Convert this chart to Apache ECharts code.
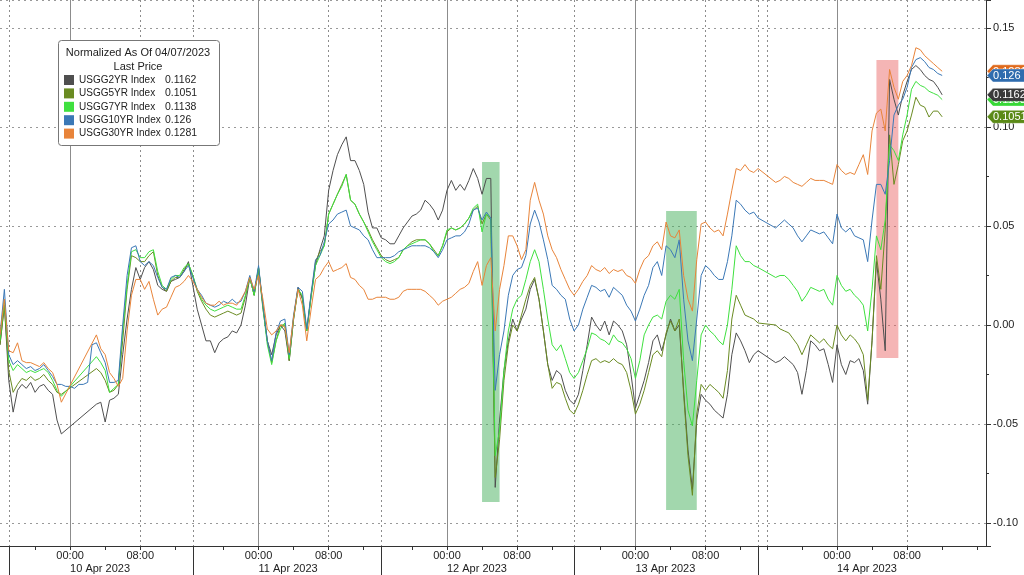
<!DOCTYPE html>
<html>
<head>
<meta charset="utf-8">
<script src="https://cdn.jsdelivr.net/npm/echarts@6/dist/echarts.min.js"></script>
<style>
html,body{margin:0;padding:0;background:#fff;}
#chart{width:1024px;height:575px;}
</style>
</head>
<body>
<div id="chart"></div>
<script>
// ---- trading-time axis: sessions in 30-minute steps ----
const sessionDates     = ['2023-04-07','2023-04-10','2023-04-11','2023-04-12','2023-04-13','2023-04-14'];
const sessionLabels    = ['07 Apr 2023','10 Apr 2023','11 Apr 2023','12 Apr 2023','13 Apr 2023','14 Apr 2023'];
const sessionFirstHour = [13, -7, -7.5, -7.5, -7, -9];
const sessionCount     = [2, 42, 43, 44, 42, 53];
const extraDottedAt    = ['13 Apr 16:00'];

const seriesNames  = ['USGG2YR Index','USGG5YR Index','USGG7YR Index','USGG10YR Index','USGG30YR Index'];
const seriesColors = ['#4f4f4f','#6a8b22','#3fe03f','#3b78b6','#e8843a'];
const tagColors    = ['#3a3a3a','#5b8a18','#36d836','#2f6cae','#e06a1c'];
const legendTitle  = 'Normalized As Of 04/07/2023';
const legendSub    = 'Last Price';

// ---- normalized yield changes (percentage points) ----
const usgg2yr = [
 -0.010, 0.010,-0.028,-0.044,-0.033,-0.030,-0.032,-0.029,-0.034,-0.031,
 -0.030,-0.033,-0.035,-0.048,-0.055, null, null, null, null, null,
  null, null,-0.040,-0.039,-0.049,-0.038,-0.037,-0.035,-0.015, 0.003,
  0.018, 0.029, 0.023, 0.029, 0.032, 0.028, 0.020, 0.018, 0.017, 0.022,
  0.023, 0.024, 0.027, 0.032, 0.020, 0.008, 0.000,-0.008,-0.008,-0.014,
 -0.009,-0.007,-0.006,-0.003,-0.004, 0.000, 0.010, 0.024, 0.015, 0.029,
  0.010,-0.008,-0.015,-0.005, 0.000,-0.003,-0.018, 0.003, 0.019, 0.013,
 -0.003, 0.015, 0.030, 0.038, 0.045, 0.068, 0.078, 0.086, 0.091, 0.095,
  0.083, 0.083, 0.078, 0.071, 0.057, 0.049, 0.049, 0.044, 0.043, 0.041,
  0.041, 0.045, 0.049, 0.052, 0.055, 0.056, 0.058, 0.063, 0.061, 0.058,
  0.053, 0.058, 0.068, 0.073, 0.068, 0.071, 0.068, 0.073, 0.079, 0.074,
  0.066, 0.074, 0.074,-0.082,-0.048,-0.023,-0.008, 0.003,-0.003, 0.003,
  0.008, 0.018, 0.023, 0.013,-0.003,-0.020,-0.028,-0.023,-0.025,-0.033,
 -0.038,-0.040,-0.035,-0.023,-0.010, 0.004, 0.000,-0.003, 0.002,-0.005,
  0.002, 0.000,-0.003,-0.010,-0.025,-0.042,-0.035,-0.028,-0.019,-0.008,
 -0.005,-0.013,-0.005, 0.003,-0.003, 0.000,-0.033,-0.063,-0.083,-0.048,
 -0.035,-0.038,-0.040,-0.043,-0.045,-0.047,-0.035,-0.015,-0.004,-0.008,
 -0.013,-0.019,-0.015,-0.013, null, null, null,-0.019,-0.018,-0.016,
 -0.018,-0.020,-0.024,-0.035,-0.023,-0.008,-0.010,-0.013,-0.012,-0.020,
 -0.029,-0.010,-0.020,-0.025,-0.018,-0.019,-0.017,-0.023,-0.040,-0.008,
  0.032, 0.013,-0.013, 0.124, 0.114, 0.106, 0.116, 0.123, 0.129, 0.131,
  0.129, 0.126, 0.124, 0.123, 0.120, 0.1162
];
const usgg5yr = [
 -0.010, 0.010,-0.023,-0.034,-0.030,-0.027,-0.028,-0.026,-0.028,-0.027,
 -0.025,-0.028,-0.030,-0.034,-0.035, null, null, null, null, null,
  null, null,-0.022,-0.024,-0.028,-0.034,-0.033,-0.030,-0.008, 0.018,
  0.035, 0.034, 0.032, 0.032, 0.035, 0.037, 0.025, 0.019, 0.017, 0.022,
  0.024, 0.024, 0.028, 0.031, 0.025, 0.017, 0.012, 0.008, 0.005, 0.004,
  0.005, 0.006, 0.007, 0.006, 0.005, 0.006, 0.014, 0.024, 0.015, 0.029,
  0.008,-0.008,-0.019,-0.008, 0.000, 0.000,-0.018, 0.003, 0.018, 0.014,
 -0.003, 0.015, 0.032, 0.037, 0.040, 0.056, 0.061, 0.066, 0.071, 0.076,
  0.063, 0.061, 0.056, 0.052, 0.048, 0.043, 0.039, 0.035, 0.033, 0.032,
  0.033, 0.034, 0.038, 0.040, 0.042, 0.043, 0.043, 0.043, 0.041, 0.038,
  0.035, 0.040, 0.047, 0.049, 0.048, 0.049, 0.051, 0.054, 0.058, 0.060,
  0.051, 0.056, 0.053,-0.077,-0.058,-0.028,-0.010, 0.000,-0.003, 0.005,
  0.013, 0.020, 0.024, 0.013,-0.003,-0.020,-0.032,-0.029,-0.030,-0.037,
 -0.043,-0.045,-0.040,-0.033,-0.025,-0.018,-0.017,-0.019,-0.018,-0.019,
 -0.017,-0.019,-0.020,-0.024,-0.033,-0.045,-0.040,-0.033,-0.024,-0.015,
 -0.013,-0.016,-0.004, 0.002,-0.003, 0.003,-0.035,-0.066,-0.086,-0.045,
 -0.030,-0.033,-0.030,-0.032,-0.034,-0.037,-0.023, 0.003, 0.015, 0.010,
  0.005, 0.004, 0.003, 0.001, null, null, null, 0.000,-0.002,-0.003,
 -0.004,-0.007,-0.010,-0.015,-0.010,-0.005,-0.007,-0.009,-0.007,-0.010,
 -0.012, 0.000,-0.005,-0.008,-0.005,-0.007,-0.010,-0.015,-0.038,-0.008,
  0.035, 0.018, 0.048, 0.096, 0.071, 0.081, 0.093, 0.098, 0.106, 0.115,
  0.111, 0.110, 0.105, 0.108, 0.108, 0.1051
];
const usgg7yr = [
 -0.008, 0.013,-0.018,-0.023,-0.020,-0.022,-0.024,-0.023,-0.024,-0.023,
 -0.022,-0.024,-0.028,-0.033,-0.036, null, null, null, null, null,
  null, null,-0.016,-0.019,-0.023,-0.034,-0.032,-0.030,-0.003, 0.020,
  0.037, 0.038, 0.034, 0.034, 0.037, 0.038, 0.027, 0.020, 0.018, 0.023,
  0.025, 0.025, 0.029, 0.031, 0.025, 0.018, 0.013, 0.010, 0.008, 0.007,
  0.008, 0.009, 0.010, 0.009, 0.008, 0.008, 0.015, 0.024, 0.015, 0.029,
  0.009,-0.010,-0.020,-0.008,-0.002, 0.001,-0.017, 0.004, 0.018, 0.015,
 -0.003, 0.014, 0.030, 0.035, 0.040, 0.056, 0.061, 0.066, 0.070, 0.076,
  0.063, 0.061, 0.056, 0.052, 0.047, 0.042, 0.038, 0.034, 0.032, 0.031,
  0.032, 0.034, 0.038, 0.040, 0.041, 0.042, 0.043, 0.043, 0.041, 0.037,
  0.035, 0.040, 0.048, 0.049, 0.048, 0.049, 0.051, 0.054, 0.059, 0.061,
  0.047, 0.056, 0.054,-0.066,-0.053,-0.023,-0.003, 0.008, 0.013, 0.015,
  0.023, 0.032, 0.038, 0.032, 0.018, 0.003,-0.010,-0.013,-0.010,-0.017,
 -0.024,-0.027,-0.024,-0.018,-0.012,-0.004,-0.005,-0.007,-0.008,-0.010,
 -0.005,-0.008,-0.009,-0.012,-0.017,-0.027,-0.018,-0.005, 0.000, 0.004,
  0.005, 0.003, 0.012, 0.015, 0.013, 0.018,-0.018,-0.043,-0.051,-0.028,
 -0.005, 0.000,-0.003,-0.005,-0.008,-0.010, 0.000, 0.018, 0.040, 0.035,
  0.032, 0.032, 0.030, 0.029, null, null, null, 0.024, 0.025, 0.025,
  0.023, 0.020, 0.017, 0.012, 0.015, 0.019, 0.018, 0.017, 0.018, 0.013,
  0.010, 0.025, 0.020, 0.017, 0.018, 0.015, 0.013, 0.010,-0.003, 0.018,
  0.045, 0.038, 0.053, 0.091, 0.088, 0.083, 0.096, 0.106, 0.119, 0.123,
  0.121, 0.120, 0.118, 0.117, 0.116, 0.1138
];
const usgg10yr = [
 -0.005, 0.018,-0.015,-0.020,-0.018,-0.020,-0.022,-0.021,-0.023,-0.022,
 -0.020,-0.023,-0.026,-0.030,-0.030,-0.031,-0.031,-0.032,-0.030,-0.030,
 -0.029,-0.010,-0.009,-0.014,-0.019,-0.029,-0.029,-0.028, 0.000, 0.025,
  0.039, 0.040, 0.032, 0.030, 0.032, 0.030, 0.024, 0.019, 0.018, 0.024,
  0.025, 0.024, 0.027, 0.030, 0.024, 0.018, 0.015, 0.011, 0.010, 0.009,
  0.010, 0.012, 0.011, 0.013, 0.011, 0.012, 0.017, 0.025, 0.017, 0.030,
  0.010,-0.008,-0.018,-0.004, 0.002, 0.003,-0.015, 0.005, 0.019, 0.017,
 -0.002, 0.016, 0.033, 0.035, 0.042, 0.051, 0.053, 0.056, 0.057, 0.058,
  0.050, 0.049, 0.048, 0.045, 0.043, 0.038, 0.034, 0.034, 0.034, 0.034,
  0.035, 0.037, 0.038, 0.039, 0.040, 0.040, 0.040, 0.040, 0.039, 0.037,
  0.034, 0.038, 0.043, 0.044, 0.045, 0.045, 0.047, 0.051, 0.058, 0.059,
  0.053, 0.057, 0.054,-0.033,-0.015,-0.003, 0.015, 0.025, 0.028, 0.029,
  0.035, 0.051, 0.058, 0.052, 0.043, 0.033, 0.020, 0.018, 0.015, 0.013,
  0.003,-0.003, 0.000, 0.008, 0.014, 0.020, 0.019, 0.017, 0.018, 0.014,
  0.019, 0.017, 0.015, 0.010, 0.007, 0.002, 0.008, 0.015, 0.020, 0.029,
  0.032, 0.025, 0.040, 0.038, 0.034, 0.043, 0.013,-0.008,-0.018, 0.003,
  0.025, 0.030, 0.028, 0.025, 0.023, 0.023, 0.032, 0.045, 0.063, 0.061,
  0.058, 0.056, 0.057, 0.054, null, null, null, 0.049, 0.051, 0.053,
  0.051, 0.049, 0.045, 0.042, 0.045, 0.048, 0.047, 0.046, 0.047, 0.044,
  0.041, 0.056, 0.049, 0.047, 0.049, 0.045, 0.044, 0.043, 0.032, 0.053,
  0.071, 0.071, 0.066, 0.083, 0.106, 0.111, 0.114, 0.120, 0.130, 0.134,
  0.135, 0.133, 0.130, 0.129, 0.127, 0.126
];
const usgg30yr = [
 -0.005, 0.013,-0.013,-0.014,-0.009,-0.018,-0.019,-0.019,-0.020,-0.021,
 -0.019,-0.022,-0.024,-0.030,-0.039, null, null, null, null, null,
  null, null,-0.005,-0.012,-0.015,-0.024,-0.027,-0.031,-0.027,-0.003,
  0.015, 0.023, 0.023, 0.018, 0.022, 0.013, 0.005, 0.008, 0.009, 0.014,
  0.019, 0.020, 0.022, 0.025, 0.022, 0.018, 0.014, 0.011, 0.010, 0.010,
  0.012, 0.010, 0.011, 0.011, 0.010, 0.013, 0.017, 0.024, 0.018, 0.025,
  0.013,-0.002,-0.005,-0.003, 0.000,-0.001,-0.014, 0.004, 0.018, 0.010,
 -0.008, 0.008, 0.023, 0.025, 0.029, 0.032, 0.027, 0.028, 0.029, 0.031,
  0.024, 0.023, 0.020, 0.018, 0.013, 0.013, 0.014, 0.014, 0.014, 0.013,
  0.013, 0.014, 0.017, 0.018, 0.018, 0.018, 0.018, 0.017, 0.015, 0.013,
  0.010, 0.012, 0.013, 0.014, 0.016, 0.018, 0.019, 0.021, 0.027, 0.032,
  0.020, 0.030, 0.034,-0.003, 0.018, 0.030, 0.045, 0.045, 0.040, 0.033,
  0.038, 0.063, 0.072, 0.063, 0.056, 0.045, 0.038, 0.034, 0.028, 0.023,
  0.018, 0.015, 0.018, 0.022, 0.025, 0.030, 0.028, 0.027, 0.029, 0.026,
  0.028, 0.027, 0.028, 0.025, 0.024, 0.021, 0.028, 0.033, 0.035, 0.040,
  0.042, 0.038, 0.052, 0.045, 0.044, 0.048, 0.025, 0.013, 0.007, 0.033,
  0.051, 0.052, 0.049, 0.047, 0.048, 0.045, 0.056, 0.068, 0.079, 0.078,
  0.081, 0.078, 0.077, 0.079, null, null, null, 0.072, 0.073, 0.075,
  0.074, 0.072, 0.071, 0.070, 0.072, 0.074, 0.073, 0.073, 0.073, 0.072,
  0.071, 0.081, 0.078, 0.076, 0.077, 0.076, 0.081, 0.086, 0.076, 0.098,
  0.107, 0.109, 0.098, 0.129, 0.120, 0.114, 0.123, 0.126, 0.131, 0.140,
  0.139, 0.136, 0.134, 0.132, 0.130, 0.1281
];
const seriesData = [usgg2yr, usgg5yr, usgg7yr, usgg10yr, usgg30yr];

// highlighted windows
const highlightFrom  = ['12 Apr 04:00','13 Apr 03:30','14 Apr 04:30'];
const highlightTo    = ['12 Apr 06:00','13 Apr 07:00','14 Apr 07:00'];
const highlightHigh  = [0.0823, 0.0576, 0.1338];
const highlightLow   = [-0.0894, -0.0934, -0.0167];
const highlightColor = ['rgba(70,176,92,0.5)','rgba(70,176,92,0.5)','rgba(232,92,92,0.45)'];

// y-axis extent
const yMin = -0.1116, yMax = 0.1641;

// ---- build category axis ----
const MONTHS = ['Jan','Feb','Mar','Apr','May','Jun','Jul','Aug','Sep','Oct','Nov','Dec'];
const cats = [], hours = [], sessStart = [], sessLab = [];
sessionDates.forEach((d, si) => {
  const base = Date.parse(d + 'T00:00:00Z');
  for (let k = 0; k < sessionCount[si]; k++) {
    const h = sessionFirstHour[si] + k * 0.5;
    const t = new Date(base + h * 3600000);
    const name = String(t.getUTCDate()).padStart(2,'0') + ' ' + MONTHS[t.getUTCMonth()] + ' ' +
      String(t.getUTCHours()).padStart(2,'0') + ':' + String(t.getUTCMinutes()).padStart(2,'0');
    cats.push(name); hours.push(h); sessStart.push(k === 0 && si > 0); sessLab.push(sessionLabels[si]);
  }
});

const FONT = '"Liberation Sans", Arial, sans-serif';
const chart = echarts.init(document.getElementById('chart'), null, {renderer: 'canvas'});

const series = seriesNames.map((n, i) => ({
  name: n, type: 'line', data: seriesData[i], xAxisIndex: 0, yAxisIndex: 0,
  showSymbol: false, symbol: 'none', connectNulls: true, animation: false,
  lineStyle: {width: 1, color: seriesColors[i]}, itemStyle: {color: seriesColors[i]},
  z: 3 + i
}));
series[4].markArea = {
  silent: true,
  data: highlightFrom.map((f, k) => [
    {xAxis: f, yAxis: highlightHigh[k], itemStyle: {color: highlightColor[k]}},
    {xAxis: highlightTo[k], yAxis: highlightLow[k]}
  ])
};

const lastVals = seriesData.map(a => a[a.length - 1]);

chart.setOption({
  animation: false,
  grid: {left: 0, right: 38, top: 0, bottom: 29, containLabel: false},
  legend: {
    data: seriesNames, orient: 'vertical', left: 64, top: 73.5, padding: 0,
    itemWidth: 10, itemHeight: 10, itemGap: 0.4, icon: 'rect', selectedMode: false,
    formatter: name => '{n|' + name + '}{v|' + String(lastVals[seriesNames.indexOf(name)]) + '}',
    textStyle: {
      color: '#222', fontFamily: FONT, fontSize: 10, lineHeight: 13,
      rich: {n: {width: 86, fontFamily: FONT, fontSize: 10, color: '#222', lineHeight: 13},
             v: {fontFamily: FONT, fontSize: 10.5, color: '#222', lineHeight: 13}}
    }
  },
  xAxis: [
    {
      type: 'category', data: cats, boundaryGap: false, position: 'bottom',
      axisLine: {show: true, onZero: false, lineStyle: {color: '#333', width: 1}},
      axisTick: {show: true, length: 4, interval: i => hours[i] % 4 === 0, lineStyle: {color: '#333'}},
      axisLabel: {
        interval: i => hours[i] === 0 || hours[i] === 8,
        formatter: v => v.slice(-5),
        color: '#222', fontFamily: FONT, fontSize: 11, margin: 4
      },
      splitLine: {show: true, interval: i => hours[i] === 0, lineStyle: {color: '#8c8c8c', width: 1, type: 'solid'}}
    },
    {
      type: 'category', data: cats, boundaryGap: false, position: 'bottom',
      axisLine: {show: false, onZero: false},
      axisTick: {show: true, length: 29, interval: i => sessStart[i], lineStyle: {color: '#333'}},
      axisLabel: {
        interval: i => hours[i] === 0,
        formatter: (v, i) => sessLab[i],
        align: 'left', color: '#222', fontFamily: FONT, fontSize: 11, margin: 17
      },
      splitLine: {show: true,
        interval: (i, v) => hours[i] === 8 || sessStart[i] || extraDottedAt.indexOf(v) >= 0,
        lineStyle: {color: '#8c8c8c', width: 1, type: [2, 3]}}
    }
  ],
  yAxis: {
    type: 'value', position: 'right', min: yMin, max: yMax, splitNumber: 5, scale: false,
    axisLine: {show: true, lineStyle: {color: '#333'}},
    axisTick: {show: true, length: 5, lineStyle: {color: '#333'}},
    minorTick: {show: true, splitNumber: 2, length: 3, lineStyle: {color: '#333'}},
    axisLabel: {
      formatter: v => v.toFixed(2), showMinLabel: false, showMaxLabel: false,
      color: '#222', fontFamily: FONT, fontSize: 11, margin: 7
    },
    splitLine: {show: true, lineStyle: {color: '#999', width: 1, type: [2, 4]}}
  },
  series: series
});

// ---- legend frame, titles and right-hand last-value tags ----
const axisX = chart.convertToPixel({xAxisIndex: 0}, cats[cats.length - 1]);
const graphics = [
  {type: 'rect', shape: {x: 58.5, y: 40.5, width: 161, height: 105, r: 3},
   style: {fill: '#fff', stroke: '#777', lineWidth: 1}, z: 1},
  {type: 'text', x: 138, y: 53, z: 2,
   style: {text: legendTitle, fill: '#222', font: '11px ' + FONT, align: 'center', verticalAlign: 'middle'}},
  {type: 'text', x: 138, y: 66.5, z: 2,
   style: {text: legendSub, fill: '#222', font: '11px ' + FONT, align: 'center', verticalAlign: 'middle'}}
];
const tagOrder = [4, 3, 2, 0, 1];
tagOrder.forEach((si, k) => {
  const y = chart.convertToPixel({yAxisIndex: 0}, lastVals[si]);
  graphics.push({
    type: 'polygon', z: 50 + k * 2,
    shape: {points: [[axisX + 1, y], [axisX + 7, y - 6.5], [1026, y - 6.5], [1026, y + 6.5], [axisX + 7, y + 6.5]]},
    style: {fill: tagColors[si], stroke: 'rgba(255,255,255,0.7)', lineWidth: 0.6}
  });
  graphics.push({
    type: 'text', z: 51 + k * 2, x: axisX + 7, y: y + 0.5,
    style: {text: String(lastVals[si]), fill: '#fff', font: '11px ' + FONT, verticalAlign: 'middle'}
  });
});
chart.setOption({graphic: graphics});
</script>
</body>
</html>
